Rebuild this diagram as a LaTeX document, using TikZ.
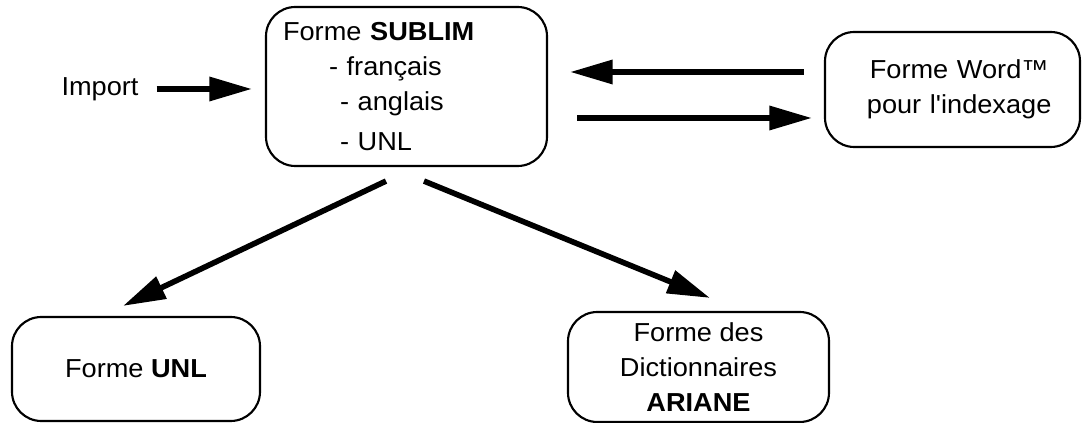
\documentclass[tikz,border=0pt]{standalone}
\usepackage{fontspec}
\setmainfont{Liberation Sans}[FakeStretch=1.045, Ligatures=TeXOff]
\usetikzlibrary{arrows.meta}
\begin{document}
\begin{tikzpicture}[x=0.75pt, y=-0.75pt,
    every node/.style={font=\fontsize{19.5}{26.25}\selectfont},
    forme/.style={draw, line width=1.6pt, rounded corners=22pt, align=center, inner sep=0pt},
    flow/.style={line width=4.2pt, -{Triangle[length=32pt, width=17.5pt]}}]
    \useasboundingbox (0, 0) rectangle (1082, 423);

    % the four forms
    \node[forme, align=left, minimum width=210.75pt, minimum height=119.25pt, text width=185.25pt] (sublim) at (406.5, 86.5)
        {Forme \textbf{SUBLIM}\\ \hspace*{34.5pt}- français\\ \hspace*{42.75pt}- anglais\\[4pt] \hspace*{42.75pt}- UNL};
    \node[forme, minimum width=191.25pt, minimum height=86.25pt, text width=191.25pt] (word) at (952.5, 89.5) {\hspace*{10pt}Forme Word™\\\hspace*{10pt}pour l'indexage};
    \node[forme, minimum width=186pt, minimum height=78pt] (unl) at (136, 369) {Forme \textbf{UNL}};
    \node[forme, minimum width=195.75pt, minimum height=82.5pt] (ariane) at (698.5, 367) {Forme des\\Dictionnaires\\\textbf{ARIANE}};
    \node (import) at (100, 89) {Import};

    % import arrow
    \draw[flow, shorten <=10pt, shorten >=9.75pt] (import.east) -- (import.east -| sublim.west);

    % Word <-> SUBLIM
    \coordinate (wa) at ([yshift=13.125pt]word.west);
    \coordinate (wb) at ([yshift=-21.375pt]word.west);
    \draw[flow, shorten <=15pt, shorten >=16.5pt] (wa) -- (wa -| sublim.east);
    \draw[flow, shorten <=21.75pt, shorten >=9pt] (wb -| sublim.east) -- (wb);

    % SUBLIM to UNL and ARIANE
    \draw[flow] ([xshift=-15.375pt, yshift=-10.5pt]sublim.south) -- ([xshift=-9.75pt, yshift=7.5pt]unl.north);
    \draw[flow] ([xshift=13.125pt, yshift=-10.5pt]sublim.south) -- ([xshift=8.625pt, yshift=9.75pt]ariane.north);
\end{tikzpicture}
\end{document}
